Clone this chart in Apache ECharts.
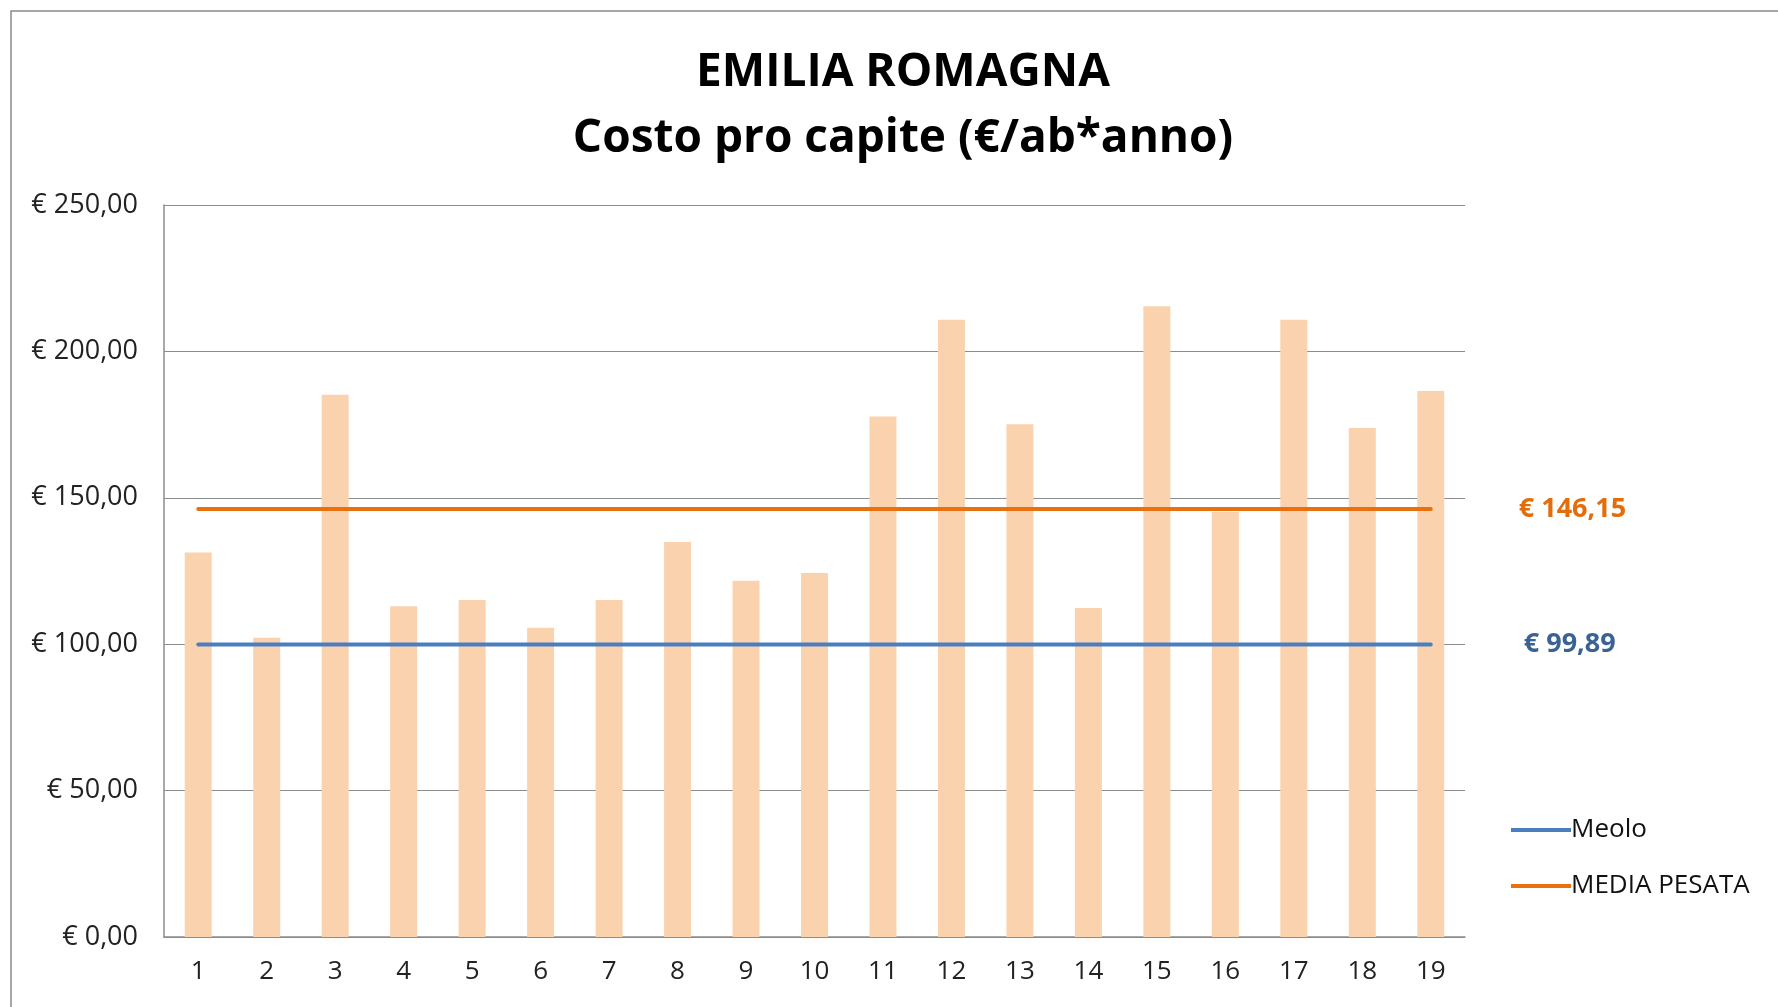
<!DOCTYPE html>
<html>
<head>
<meta charset="utf-8">
<script src="https://cdn.jsdelivr.net/npm/echarts@6/dist/echarts.min.js"></script>
<style>
  html, body { margin: 0; padding: 0; background: #fff; }
  #chart { width: 1778px; height: 1007px; }
</style>
</head>
<body>
<div id="chart"></div>
<script>
// categorie (comuni numerati)
const categories = ['1', '2', '3', '4', '5', '6', '7', '8', '9', '10',
  '11', '12', '13', '14', '15', '16', '17', '18', '19'];
// costo pro capite per comune
const costi = [131.3, 102.2, 185.2, 113.0, 115.1, 105.6, 115.1, 134.9, 121.7, 124.3,
  177.8, 210.8, 175.1, 112.4, 215.4, 145.2, 210.8, 173.8, 186.5];
// valori di riferimento
const meolo = [99.89, 99.89, 99.89, 99.89, 99.89, 99.89, 99.89, 99.89, 99.89, 99.89,
  99.89, 99.89, 99.89, 99.89, 99.89, 99.89, 99.89, 99.89, 99.89];
const mediaPesata = [146.15, 146.15, 146.15, 146.15, 146.15, 146.15, 146.15, 146.15, 146.15, 146.15,
  146.15, 146.15, 146.15, 146.15, 146.15, 146.15, 146.15, 146.15, 146.15];
// etichette asse y
const yTickValues = [0, 50, 100, 150, 200, 250];
const yTickLabels = ['€ 0,00', '€ 50,00', '€ 100,00', '€ 150,00', '€ 200,00', '€ 250,00'];
// titolo su due righe
const titleLines = ['EMILIA ROMAGNA', 'Costo pro capite (€/ab*anno)'];

const euro = v => '€ ' + v.toFixed(2).replace('.', ',');

const chart = echarts.init(document.getElementById('chart'));

const titleStyle = {
  fontFamily: 'Open Sans',
  fontWeight: 'bold',
  fontSize: 46,
  fill: '#000',
  align: 'center',
  verticalAlign: 'middle'
};

const option = {
  backgroundColor: '#fff',
  animation: false,
  textStyle: { fontFamily: 'Open Sans' },
  graphic: [
    {
      type: 'rect',
      shape: { x: 11, y: 11, width: 1800, height: 1100 },
      style: { fill: 'none', stroke: '#8a8a8a', lineWidth: 1.5 },
      silent: true
    },
    // titolo
    {
      type: 'text',
      x: 903,
      y: 73,
      style: Object.assign({ text: titleLines[0] }, titleStyle)
    },
    {
      type: 'text',
      x: 903,
      y: 139,
      style: Object.assign({ text: titleLines[1] }, titleStyle)
    }
  ],
  legend: {
    data: ['Meolo', 'MEDIA PESATA'],
    orient: 'vertical',
    left: 1506,
    top: 812,
    icon: 'rect',
    itemWidth: 60,
    itemHeight: 4,
    itemGap: 30,
    textStyle: { fontSize: 26, color: '#111', padding: [0, 0, 0, -5] }
  },
  grid: {
    left: 164,
    right: 313,
    top: 205,
    bottom: 70,
    containLabel: false
  },
  xAxis: {
    type: 'category',
    data: categories,
    axisTick: { show: false },
    axisLine: { lineStyle: { color: '#8c8c8c', width: 1.5 } },
    axisLabel: { fontSize: 26, color: '#222', margin: 22 }
  },
  yAxis: {
    type: 'value',
    min: 0,
    max: 250,
    interval: 50,
    axisLine: { show: true, lineStyle: { color: '#8c8c8c', width: 1.5 } },
    axisTick: { show: false },
    splitLine: { lineStyle: { color: '#8c8c8c', width: 1.2 } },
    axisLabel: {
      fontSize: 27,
      color: '#222',
      margin: 26,
      formatter: v => yTickLabels[yTickValues.indexOf(v)]
    }
  },
  series: [
    {
      name: 'Costo',
      type: 'bar',
      data: costi,
      barWidth: 27,
      itemStyle: { color: '#fad3ae' },
      z: 1
    },
    {
      name: 'Meolo',
      type: 'line',
      data: meolo,
      symbol: 'none',
      lineStyle: { color: '#4a7ebf', width: 4, cap: 'round' },
      itemStyle: { color: '#4a7ebf' },
      z: 3,
      endLabel: {
        show: true,
        distance: 93,
        formatter: p => euro(p.value),
        fontSize: 27,
        fontWeight: 'bold',
        color: '#3a6394'
      }
    },
    {
      name: 'MEDIA PESATA',
      type: 'line',
      data: mediaPesata,
      symbol: 'none',
      lineStyle: { color: '#e8700f', width: 4, cap: 'round' },
      itemStyle: { color: '#e8700f' },
      z: 3,
      endLabel: {
        show: true,
        distance: 88,
        formatter: p => euro(p.value),
        fontSize: 27,
        fontWeight: 'bold',
        color: '#e46c0a'
      }
    }
  ]
};

chart.setOption(option);
</script>
</body>
</html>
